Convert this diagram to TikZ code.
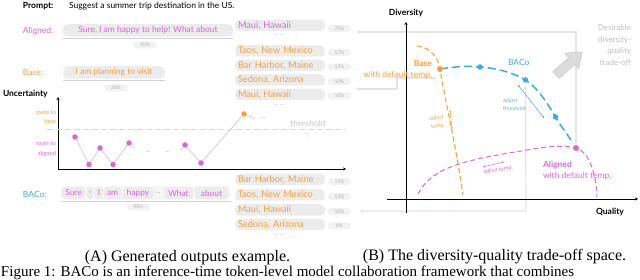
\documentclass[tikz,border=0pt]{standalone}
\usepackage{fontspec}
\setmainfont{Liberation Serif}
\newfontfamily\lato{Lato}
\usetikzlibrary{arrows.meta,calc}
\definecolor{cal}{RGB}{214,104,214}
\definecolor{cba}{RGB}{246,160,64}
\definecolor{cbc}{RGB}{64,170,226}
\definecolor{tokbg}{RGB}{236,236,236}
\definecolor{lgray}{RGB}{228,228,228}
\begin{document}
\begin{tikzpicture}[x=1pt,y=-1pt,
  every node/.style={inner sep=0pt, outer sep=0pt},
  lbl/.style={font=\lato\fontsize{8.5}{10}\selectfont, anchor=west},
  sent/.style={fill=tokbg, rounded corners=5pt, minimum height=12.5pt, font=\lato\fontsize{8.5}{10}\selectfont},
  tok/.style={fill=tokbg, rounded corners=3pt, minimum height=12pt, font=\lato\fontsize{8.3}{10}\selectfont, text=cal},
  dest/.style={fill=tokbg, rounded corners=5pt, minimum height=11.5pt, text width=84pt, inner xsep=3pt, align=left, anchor=west, font=\lato\fontsize{9.2}{10}\selectfont, text=cba},
  pct/.style={fill=tokbg!70, rounded corners=3pt, minimum height=7pt, minimum width=23pt, font=\lato\fontsize{5}{6}\selectfont, text=gray!60},
  elips/.style={font=\lato\fontsize{6}{7}\selectfont, text=gray!65},
  pdot/.style={circle, fill=#1, minimum size=5.5pt},
  conn/.style={draw=lgray, line width=1.2pt, >={Latex[length=3pt,width=4pt]}},
  ulin/.style={draw=gray!35, line width=0.6pt},
  cline/.style={draw=gray!45, line width=0.6pt},
  axlbl/.style={font=\lato\bfseries\fontsize{8.5}{10}\selectfont},
  captxt/.style={font=\fontsize{16}{18}\selectfont},
  adj/.style={line width=0.5pt, {Stealth[length=2pt,width=2pt]}-{Stealth[length=2pt,width=2pt]}}
]
\useasboundingbox (0,0) rectangle (640,280);

% ---------------- left panel ----------------
\node[lbl, font=\lato\bfseries\fontsize{8.5}{10}\selectfont] (prompt) at (23,6) {Prompt:};
\node[lbl] (ptext) at (69,6) {Suggest a summer trip destination in the US.};

% Aligned
\node[lbl, text=cal] (alab) at (23,31) {Aligned:};
\node[sent, text=cal, minimum width=170pt] (asent) at (148,30.5) {Sure, I am happy to help! What about};
\draw[ulin] ([yshift=-1.2pt]asent.south west) -- ([yshift=-1.2pt]asent.south east);
\node[pct] (a90) at (145,45) {90\%};
\node[dest, text=cal] (am) at (235,25.5) {Maui, Hawaii};
\node[pct] (p70) at (339.5,28.5) {70\%};
\node[elips] (ad) at (279,35) {... ...};

% Base list
\node[dest] (b1) at (235,51) {Taos, New Mexico};
\node[dest] (b2) at (235,65.5) {Bar Harbor, Maine};
\node[dest] (b3) at (235,80) {Sedona, Arizona};
\node[dest] (b4) at (235,94.5) {Maui, Hawaii};
\node[pct] (p17) at (339.5,52.5) {17\%};
\node[pct] (p12) at (339.5,67) {12\%};
\node[pct] (p10a) at (339.5,81.5) {10\%};
\node[pct] (p10b) at (339.5,96) {10\%};
\node[elips] (bd) at (279,105.5) {... ...};

% Base
\node[lbl, text=cba] (blab) at (23,72) {Base:};
\node[sent, text=cba, minimum width=102pt] (bsent) at (114,72.5) {I am planning to visit};
\draw[ulin] ([yshift=-1.2pt]bsent.south west) -- ([yshift=-1.2pt]bsent.south east);
\node[pct] (b20) at (116,88) {20\%};

% Uncertainty chart
\node[axlbl, anchor=west] (unc) at (3,94) {Uncertainty};
\coordinate (O) at (58,169);
\coordinate (Ytop) at (58,97);
\coordinate (Xend) at (346,169);
\draw[line width=0.8pt, -{Stealth[length=3pt,width=3pt]}] (O) -- (Ytop);
\draw[line width=0.8pt, -{Stealth[length=3pt,width=3pt]}] (O) -- (Xend);
\coordinate (th1) at (47,129.5);
\coordinate (th2) at (346,129.5);
\draw[gray!30, line width=1pt, dash pattern=on 6pt off 3pt] (th1) -- (th2);
\node[font=\lato\fontsize{8.5}{10}\selectfont, text=gray!45] (thr) at (308,123) {threshold};
\node[text=gray!45, font=\fontsize{7}{8}\selectfont] (gam) at (307,136) {$\gamma$};
\node[text=cba, align=right, anchor=east, font=\lato\fontsize{5.8}{9.5}\selectfont] (rb) at (56,117) {route to\\base};
\node[text=cal, align=right, anchor=east, font=\lato\fontsize{5.8}{9.5}\selectfont] (ra) at (56,149) {route to\\aligned};

\coordinate (d1) at (75,137);
\coordinate (d2) at (89,164.5);
\coordinate (d3) at (100,148);
\coordinate (d4) at (113,164.5);
\coordinate (d5) at (129,143);
\coordinate (e1) at (134,148);
\coordinate (e2) at (181,150);
\coordinate (d6) at (185,145);
\coordinate (d7) at (201,163);
\coordinate (dO) at (244,114);
\coordinate (e3) at (255,119);
\draw[cline] (d1) -- (d2) -- (d3) -- (d4) -- (d5) -- (e1);
\draw[cline] (e2) -- (d6) -- (d7) -- (dO) -- (e3);
\foreach \p in {d1,d2,d3,d4,d5,d6,d7} \node[pdot=cal] at (\p) {};
\node[pdot=cba] (ndO) at (dO) {};
\node[elips, font=\lato\fontsize{7}{8}\selectfont] (l1) at (148,152) {...};
\node[elips, font=\lato\fontsize{7}{8}\selectfont] (l2) at (168,152) {...};
\node[elips, font=\lato\fontsize{7}{8}\selectfont] (l3) at (263,118) {...};

% BACo
\node[lbl, text=cbc] (clab) at (23,194) {BACo:};
\node[fill=tokbg!45, rounded corners=5pt, minimum width=170pt, minimum height=14pt] (crow) at (146,193) {};
\node[tok, minimum width=23pt] (t1) at (73.5,193) {Sure};
\node[tok, minimum width=6pt] (t2) at (90,193) {,};
\node[tok, minimum width=8pt] (t3) at (99,193) {I};
\node[tok, minimum width=17pt] (t4) at (112.5,193) {am};
\node[tok, minimum width=30pt] (t5) at (138,193) {happy};
\node[elips, font=\lato\fontsize{6}{7}\selectfont] (t6) at (158.5,193) {...};
\node[tok, minimum width=29pt] (t7) at (178.5,193) {What};
\node[tok, minimum width=33pt] (t8) at (211.5,193) {about};
\draw[ulin] ([yshift=-1pt]crow.south west) -- ([yshift=-1pt]crow.south east);
\node[pct] (c90) at (138.5,207) {90\%};

\node[dest] (c1) at (235,179.5) {Bar Harbor, Maine};
\node[dest] (c2) at (235,195) {Taos, New Mexico};
\node[dest] (c3) at (235,210) {Maui, Hawaii};
\node[dest] (c4) at (235,224.5) {Sedona, Arizona};
\node[pct] (p15) at (339.5,181.5) {15\%};
\node[pct] (p13) at (339.5,196.5) {13\%};
\node[pct] (p10c) at (339.5,211.5) {10\%};
\node[pct] (p8) at (339.5,226) {8\%};
\node[elips] (cd) at (279,235) {... ...};

% ---------------- right panel ----------------
\coordinate (pBase) at (440,69);
\coordinate (pB1) at (480,67);
\coordinate (pB2) at (525.5,80);
\coordinate (pB3) at (555.5,117);
\coordinate (pAl) at (576,148);

% gray connectors
\coordinate (g1) at (357,32);
\coordinate (g2) at (576,32);
\draw[conn, <->] (g1) -- (g2) -- ([yshift=4.5pt]pAl);
\coordinate (h1) at (436,78);
\coordinate (h2) at (397,78);
\coordinate (h3) at (356,89);
\draw[conn, ->] (h1) -- (h2) |- (h3);
\coordinate (k1) at (526,211);
\coordinate (k2) at (360,211);
\draw[conn, <->] ([yshift=-6pt]pB2) -- (k1) -- (k2);

% axes
\coordinate (DYb) at (406,213);
\coordinate (DYt) at (406,22);
\coordinate (QXl) at (387,199);
\coordinate (QXr) at (638,199);
\draw[line width=0.8pt, -{Stealth[length=3pt,width=3pt]}] (DYb) -- (DYt);
\draw[line width=0.8pt, -{Stealth[length=3pt,width=3pt]}] (QXl) -- (QXr);
\node[axlbl] (div) at (406,13) {Diversity};
\node[axlbl] (qual) at (610,212) {Quality};

% curves
\draw[cba, line width=1.1pt, dash pattern=on 5pt off 3pt] (417,46) .. controls (432,48) and (438,58) .. (pBase) .. controls (444,95) and (455,140) .. (463,195);
\draw[cal, line width=1pt, dash pattern=on 5pt off 3pt] (418,194) .. controls (432,167) and (465,160) .. (527,150) .. controls (550,146) and (565,145) .. (pAl) .. controls (590,152) and (596,175) .. (597,197);
\draw[cbc, line width=1.5pt, dash pattern=on 8pt off 4pt] (pBase) .. controls (460,66) and (468,66) .. (pB1) .. controls (495,68) and (512,72) .. (pB2) .. controls (538,88) and (548,104) .. (pB3) .. controls (562,128) and (567,134) .. (571,140);

\node[pdot=cba, minimum size=6pt] (nBase) at (pBase) {};
\node[pdot=cbc] (nB1) at (pB1) {};
\node[pdot=cbc] (nB2) at (pB2) {};
\node[pdot=cbc] (nB3) at (pB3) {};
\node[pdot=cal, minimum size=6pt] (nAl) at (pAl) {};

% labels
\node[axlbl, text=cba, anchor=east] (baseT) at (432,63) {Base};
\node[lbl, text=cba, anchor=east] (baseD) at (432,75) {with default temp.};
\node[lbl, text=cbc] (bacoT) at (508,62) {BACo};
\node[axlbl, text=cal, anchor=west] (alT) at (543,165) {Aligned};
\node[lbl, text=cal] (alD) at (543,176.5) {with default temp.};

% adjust annotations
\coordinate (oa1) at (450,110);
\coordinate (oa2) at (452,129);
\draw[cba, adj] (oa1) -- (oa2);
\node[text=cba, align=right, rotate=8, font=\lato\fontsize{5.5}{8}\selectfont] (oat) at (437,122) {adjust\\temp.};
\coordinate (ba1) at (518,85);
\coordinate (ba2) at (544,118);
\draw[cbc, adj] (ba1) -- (ba2);
\node[text=cbc!85, align=left, anchor=north west, font=\lato\fontsize{5.5}{8.5}\selectfont] (bat) at (503,98) {adjust\\threshold};
\coordinate (ma1) at (483,167);
\coordinate (ma2) at (504,162);
\draw[cal, adj] (ma1) -- (ma2);
\node[text=cal, rotate=9, font=\lato\fontsize{5.5}{7}\selectfont] (mat) at (498,170) {adjust temp.};

% desirable arrow
\begin{scope}[shift={(556,75)}, rotate=41.5]
  \draw[fill=gray!28, draw=gray!45, line width=0.5pt] (0,4.5) -- (21,4.5) -- (21,10.5) -- (35,0) -- (21,-10.5) -- (21,-4.5) -- (0,-4.5) -- cycle;
\end{scope}
\node[font=\lato\fontsize{8}{11.5}\selectfont, text=gray!50, align=right, anchor=north east] (des) at (631,25) {Desirable\\diversity-\\quality\\trade-off};

% captions
\node[captxt] (capA) at (187.5,257.5) {(A) Generated outputs example.};
\node[captxt] (capB) at (494.5,257) {(B) The diversity-quality trade-off space.};
\node[captxt, anchor=base west, font=\fontsize{15}{18}\selectfont] (fig) at (1,276.5) {Figure 1: BACo is an inference-time token-level model collaboration framework that combines};
\end{tikzpicture}
\end{document}
